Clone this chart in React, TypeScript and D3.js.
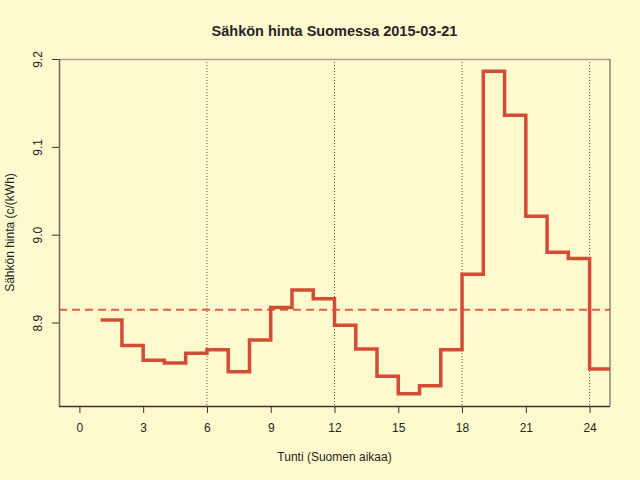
import React, { useEffect, useRef } from 'react';
import * as d3 from 'd3';

// hourly price, c/kWh, hour h covers [h, h+1)
const hours = [1, 2, 3, 4, 5, 6, 7, 8, 9, 10, 11, 12, 13, 14, 15, 16, 17, 18, 19, 20, 21, 22, 23, 24];
const prices = [
  8.903, 8.874, 8.857, 8.854, 8.865, 8.869, 8.844, 8.880, 8.917, 8.937, 8.927, 8.897,
  8.870, 8.839, 8.819, 8.828, 8.869, 8.955, 9.186, 9.136, 9.021, 8.980, 8.973, 8.847,
];
const xTicks = [0, 3, 6, 9, 12, 15, 18, 21, 24];
const yTicks = [8.9, 9.0, 9.1, 9.2];
const guideHours = [6, 12, 18, 24];

const W = 640;
const H = 480;

export default function App() {
  const svgRef = useRef<SVGSVGElement>(null);

  useEffect(() => {
    if (!svgRef.current) return;
    const svg = d3.select(svgRef.current);
    svg.selectAll('*').remove();

    const margin = { top: 59, right: 30, bottom: 74, left: 59 };
    const x = d3.scaleLinear().domain([-0.96, 24.96]).range([margin.left, W - margin.right]);
    const y = d3.scaleLinear().domain([8.805, 9.2]).range([H - margin.bottom, margin.top]);
    const [x0, x1] = x.range();
    const [y0, y1] = y.range();

    svg.append('rect').attr('width', W).attr('height', H).attr('fill', '#fffacd');

    svg.append('clipPath').attr('id', 'plot-clip')
      .append('rect')
      .attr('x', x0).attr('y', y1).attr('width', x1 - x0).attr('height', y0 - y1);

    // title
    svg.append('text')
      .attr('x', (x0 + x1) / 2).attr('y', 36)
      .attr('text-anchor', 'middle')
      .attr('font-size', 14.5).attr('font-weight', 'bold')
      .attr('fill', '#2a2228')
      .text('Sähkön hinta Suomessa 2015-03-21');

    // vertical guides
    svg.append('g').selectAll('line')
      .data(guideHours)
      .enter().append('line')
      .attr('x1', d => x(d)).attr('x2', d => x(d))
      .attr('y1', y1).attr('y2', y0)
      .attr('stroke', '#555').attr('stroke-width', 1)
      .attr('stroke-dasharray', '1,2');

    // mean line
    const avg = d3.mean(prices) as number;
    svg.append('line')
      .attr('clip-path', 'url(#plot-clip)')
      .attr('x1', x0).attr('x2', x1)
      .attr('y1', y(avg)).attr('y2', y(avg))
      .attr('stroke', '#e0604c').attr('stroke-width', 2)
      .attr('stroke-dasharray', '8,5');

    // step line
    const pts: [number, number][] = hours.map((h, i) => [h, prices[i]]);
    pts.push([hours[hours.length - 1] + 1, prices[prices.length - 1]]);
    const line = d3.line<[number, number]>()
      .x(d => x(d[0]))
      .y(d => y(d[1]))
      .curve(d3.curveStepAfter);
    svg.append('path')
      .datum(pts)
      .attr('clip-path', 'url(#plot-clip)')
      .attr('fill', 'none')
      .attr('stroke', '#d34c36')
      .attr('stroke-width', 3.5)
      .attr('stroke-linejoin', 'miter')
      .attr('d', line);

    // box
    svg.append('line').attr('x1', x0).attr('x2', x1).attr('y1', y1 + 0.5).attr('y2', y1 + 0.5)
      .attr('stroke', '#aaa28c').attr('stroke-width', 1.5);
    svg.append('line').attr('x1', x1).attr('x2', x1).attr('y1', y1).attr('y2', y0)
      .attr('stroke', '#6e6a66').attr('stroke-width', 1.2);

    // axes
    const xAxis = svg.append('g')
      .attr('transform', `translate(0,${y0})`)
      .call(d3.axisBottom(x).tickValues(xTicks).tickSize(7).tickPadding(10).tickFormat(d3.format('d')));
    xAxis.select('.domain').attr('d', `M${x0},0.5H${x1}`).attr('stroke', '#3a3034').attr('stroke-width', 1.3);
    xAxis.selectAll('.tick line').attr('stroke', '#3a3034');
    xAxis.selectAll('.tick text').attr('font-size', 12).attr('fill', '#222')
      .attr('font-family', '"Liberation Sans", Arial, sans-serif');

    const yAxis = svg.append('g')
      .attr('transform', `translate(${x0},0)`)
      .call(d3.axisLeft(y).tickValues(yTicks).tickSize(7).tickFormat(d3.format('.1f')));
    yAxis.select('.domain').attr('d', `M0.5,${y1}V${y0}`).attr('stroke', '#6e6862').attr('stroke-width', 1.5);
    yAxis.selectAll('.tick line').attr('stroke', '#3a3034');
    yAxis.selectAll('.tick text')
      .attr('font-size', 12).attr('fill', '#222')
      .attr('font-family', '"Liberation Sans", Arial, sans-serif')
      .attr('x', null).attr('dy', null)
      .attr('text-anchor', 'middle')
      .attr('transform', 'translate(-17,0) rotate(-90)');

    // axis titles
    svg.append('text')
      .attr('x', (x0 + x1) / 2).attr('y', 461)
      .attr('text-anchor', 'middle')
      .attr('font-size', 12).attr('fill', '#222')
      .text('Tunti (Suomen aikaa)');

    svg.append('text')
      .attr('transform', `translate(14,${(y0 + y1) / 2}) rotate(-90)`)
      .attr('text-anchor', 'middle')
      .attr('font-size', 12).attr('fill', '#222')
      .text('Sähkön hinta (c/(kWh)');
  }, []);

  return (
    <svg
      ref={svgRef}
      width={W}
      height={H}
      style={{ position: 'absolute', left: 0, top: 0, fontFamily: '"Liberation Sans", Arial, sans-serif' }}
    />
  );
}
